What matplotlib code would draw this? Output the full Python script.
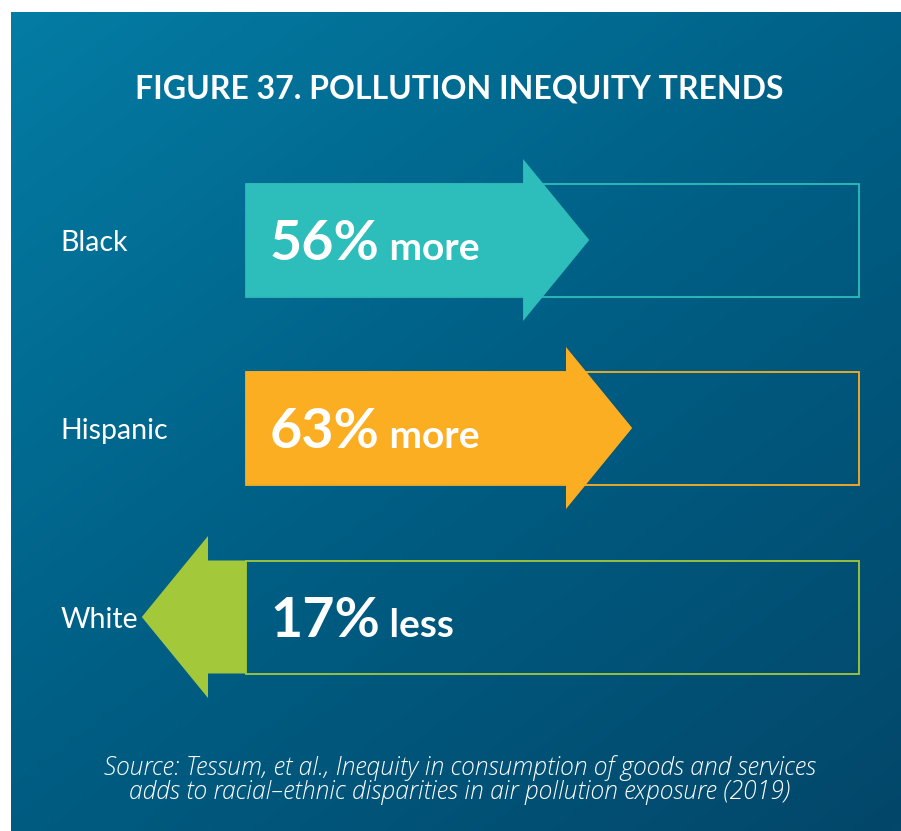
import numpy as np
import matplotlib.pyplot as plt
from matplotlib.patches import Polygon, Rectangle
from matplotlib.colors import LinearSegmentedColormap

# Change in pollution exposure relative to consumption, by group (%)
groups = ["Black", "Hispanic", "White"]
values = [56, 63, -17]
labels = ["more", "more", "less"]
colors = ["#2dbdbb", "#fbae22", "#a3c93a"]

title = "FIGURE 37. POLLUTION INEQUITY TRENDS"
source = ("Source: Tessum, et al., Inequity in consumption of goods and services\n"
          "adds to racial\u2013ethnic disparities in air pollution exposure (2019)")

W, H = 901, 831
PX_PER_PCT = 6.13      # horizontal scale
X0 = 246               # pixel position of 0 %
row_y = [240, 428, 617]
body_half = 56.5
head_half = 81
head_len = 10.8

plt.rcParams['font.family'] = ['Lato', 'DejaVu Sans']

fig = plt.figure(figsize=(W / 100, H / 100), dpi=100, facecolor="white")

# gradient panel
bg = fig.add_axes([11 / W, 0, (W - 11) / W, (H - 12) / H])
bg.set_axis_off()
gy, gx = np.mgrid[0:1:200j, 0:1:200j]
grad = 0.55 * gy + 0.45 * gx
cmap = LinearSegmentedColormap.from_list("panel", ["#047ca4", "#005e84", "#03476a"])
bg.imshow(grad, cmap=cmap, aspect="auto", extent=[0, 1, 1, 0], interpolation="bilinear")

ax = fig.add_axes([0, 0, 1, 1])
ax.set_xlim(-X0 / PX_PER_PCT, (W - X0) / PX_PER_PCT)
ax.set_ylim(H, 0)
ax.set_axis_off()
ax.patch.set_alpha(0)


def arrow_points(v, yc):
    s = np.sign(v)
    b = v - s * head_len
    return [(0, yc - body_half), (b, yc - body_half), (b, yc - head_half),
            (v, yc), (b, yc + head_half), (b, yc + body_half), (0, yc + body_half)]


for g, v, lab, c, yc in zip(groups, values, labels, colors, row_y):
    ax.add_patch(Rectangle((0, yc - body_half), 100, 2 * body_half, fill=False,
                           edgecolor=c, linewidth=1.3, zorder=2))
    ax.add_patch(Polygon(arrow_points(v, yc), closed=True, facecolor=c,
                         edgecolor="none", zorder=3))
    ax.text(-30.3, yc + 3, g, color="white", fontsize=20.5, va="center", ha="left", zorder=4)
    t1 = ax.text(3.9, yc + 20, f"{abs(v)}%", color="white", fontsize=40,
                 fontweight="bold", va="baseline", ha="left", zorder=4)
    ax.annotate(" " + lab, xy=(1, yc + 20), xycoords=(t1, "data"),
                color="white", fontsize=28, fontweight="bold",
                va="baseline", ha="left", zorder=4)

fig.text(459 / W, 1 - 89 / H, title, color="white", fontsize=23,
         fontweight="bold", ha="center", va="center")
fig.text(460 / W, 1 - 780 / H, source, color="white", fontsize=17.7,
         family=["Open Sans", "DejaVu Sans"], style="italic", fontweight="light",
         ha="center", va="center", linespacing=0.98)

fig.savefig("out.png", dpi=100, facecolor="white")
